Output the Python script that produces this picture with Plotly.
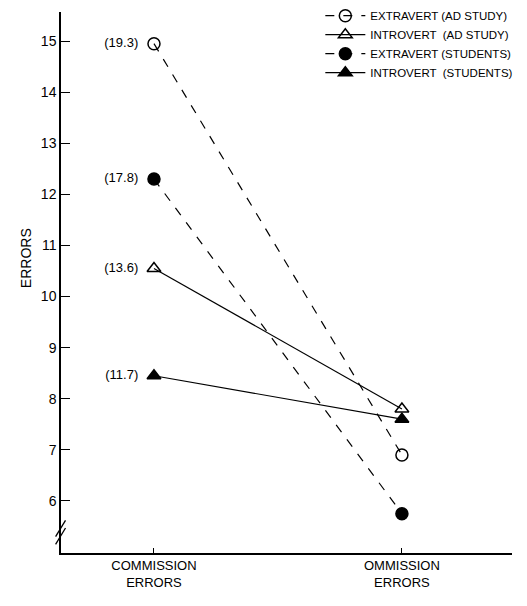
import plotly.graph_objects as go

categories = ["COMMISSION<br>ERRORS", "OMMISSION<br>ERRORS"]
series_names = ["EXTRAVERT (AD STUDY)", "INTROVERT  (AD STUDY)",
                "EXTRAVERT (STUDENTS)", "INTROVERT  (STUDENTS)"]
extravert_ad = [14.95, 6.9]
introvert_ad = [10.55, 7.8]
extravert_students = [12.3, 5.75]
introvert_students = [8.45, 7.6]
true_commission_labels = ["(19.3)", "(13.6)", "(17.8)", "(11.7)"]
y_ticks = [6, 7, 8, 9, 10, 11, 12, 13, 14, 15]

FONT = "Liberation Sans"
series = [
    (series_names[0], extravert_ad, "circle-open", "dash", true_commission_labels[0]),
    (series_names[1], introvert_ad, "triangle-up-open", "solid", true_commission_labels[1]),
    (series_names[2], extravert_students, "circle", "dash", true_commission_labels[2]),
    (series_names[3], introvert_students, "triangle-up", "solid", true_commission_labels[3]),
]

fig = go.Figure()
for name, vals, sym, dash, lab in series:
    fig.add_trace(go.Scatter(
        x=[0, 1], y=vals, name=name,
        mode="lines+markers+text",
        text=[lab + "  ", ""], textposition="middle left",
        textfont=dict(family=FONT, size=13, color="black"),
        line=dict(color="black", width=1.2, dash=dash),
        marker=dict(symbol=sym, size=12, color="black",
                    line=dict(color="black", width=1.5)),
    ))

# page body adds an 8px offset; margins compensate so the plot area lands at
# x 61..512, y 12..553 in the window
fig.update_layout(
    width=519, height=598,
    margin=dict(l=53, r=15, t=4, b=53, autoexpand=False),
    paper_bgcolor="white", plot_bgcolor="white",
    font=dict(family=FONT, color="black", size=13),
    showlegend=True,
    legend=dict(x=0.575, y=1.02, xanchor="left", yanchor="top",
                font=dict(family=FONT, size=11.5), tracegroupgap=0,
                bgcolor="rgba(0,0,0,0)", itemwidth=40),
    xaxis=dict(range=[-0.375, 1.444], tickvals=[0, 1], ticktext=categories,
               showgrid=False, zeroline=False, showline=True, linecolor="black",
               linewidth=1.5, ticks="inside", ticklen=5, tickcolor="black",
               tickfont=dict(family=FONT, size=13)),
    yaxis=dict(range=[4.98, 15.57], tickvals=y_ticks, showgrid=False,
               zeroline=False, showline=True, linecolor="black", linewidth=1.5,
               ticks="inside", ticklen=9, tickcolor="black",
               tickfont=dict(family=FONT, size=14)),
    annotations=[dict(text="ERRORS", x=-0.1, y=10.75, xref="paper", yref="y",
                      textangle=-90, showarrow=False,
                      font=dict(family=FONT, size=14))],
    shapes=[
        dict(type="line", xref="paper", yref="y", x0=-0.012, x1=0.01,
             y0=5.30, y1=5.62, line=dict(color="black", width=1.3)),
        dict(type="line", xref="paper", yref="y", x0=-0.012, x1=0.01,
             y0=5.15, y1=5.47, line=dict(color="black", width=1.3)),
    ],
)

fig.write_html("out.html")
